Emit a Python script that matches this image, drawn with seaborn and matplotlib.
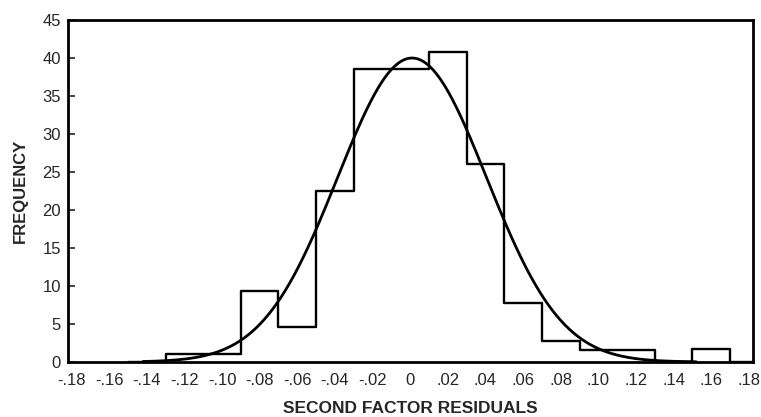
import numpy as np
import pandas as pd
import seaborn as sns
import matplotlib.pyplot as plt

# histogram: bin centres (width .02) and frequencies
# (empty end bins so the outline drops back to the baseline)
bin_centers = [-0.14, -0.12, -0.10, -0.08, -0.06, -0.04, -0.02, 0.00, 0.02,
               0.04, 0.06, 0.08, 0.10, 0.12, 0.14, 0.16, 0.18]
frequency = [0.0, 1.0, 1.1, 9.4, 4.6, 22.5, 38.5, 38.5, 40.8,
             26.0, 7.8, 2.7, 1.6, 1.6, 0.0, 1.7, 0.0]
bin_width = 0.02

# fitted normal curve drawn over the histogram
curve_mean = 0.001
curve_sd = 0.0396
curve_peak = 40.0
curve_range = (-0.142, 0.152)

x_ticks = [-0.18, -0.16, -0.14, -0.12, -0.10, -0.08, -0.06, -0.04, -0.02, 0.0,
           0.02, 0.04, 0.06, 0.08, 0.10, 0.12, 0.14, 0.16, 0.18]
x_ticklabels = ["-.18", "-.16", "-.14", "-.12", "-.10", "-.08", "-.06", "-.04", "-.02", "0",
                ".02", ".04", ".06", ".08", ".10", ".12", ".14", ".16", ".18"]
y_ticks = [0, 5, 10, 15, 20, 25, 30, 35, 40, 45]

sns.set_style("ticks")
plt.rcParams['font.family'] = ['Liberation Sans', 'DejaVu Sans']

df = pd.DataFrame({"resid": bin_centers, "freq": frequency})
edges = [round(bin_centers[0] - bin_width / 2 + i * bin_width, 3)
         for i in range(len(bin_centers) + 1)]

fig = plt.figure(figsize=(7.61, 4.17), dpi=100)
ax = fig.add_axes([0.089, 0.132, 0.900, 0.820])

sns.histplot(data=df, x="resid", weights="freq", bins=edges, element="step",
             fill=False, color="black", linewidth=1.7, ax=ax)

xs = np.linspace(curve_range[0], curve_range[1], 400)
ys = curve_peak * np.exp(-0.5 * ((xs - curve_mean) / curve_sd) ** 2)
sns.lineplot(x=xs, y=ys, color="black", linewidth=2.0, ax=ax)

ax.set_xlim(-0.182, 0.182)
ax.set_ylim(0, 45)
ax.set_xticks(x_ticks)
ax.set_xticklabels(x_ticklabels, fontsize=12)
ax.set_yticks(y_ticks)
ax.tick_params(axis="y", direction="in", length=5, width=1.2, labelsize=12, pad=5)
ax.tick_params(axis="x", length=0, pad=8)
for s in ax.spines.values():
    s.set_linewidth(2.0)
    s.set_color("black")

ax.set_xlabel("SECOND FACTOR RESIDUALS", fontsize=12.5, fontweight="bold", labelpad=9)
ax.set_ylabel("FREQUENCY", fontsize=12, fontweight="bold", labelpad=10)

fig.savefig("out.png", dpi=100)
